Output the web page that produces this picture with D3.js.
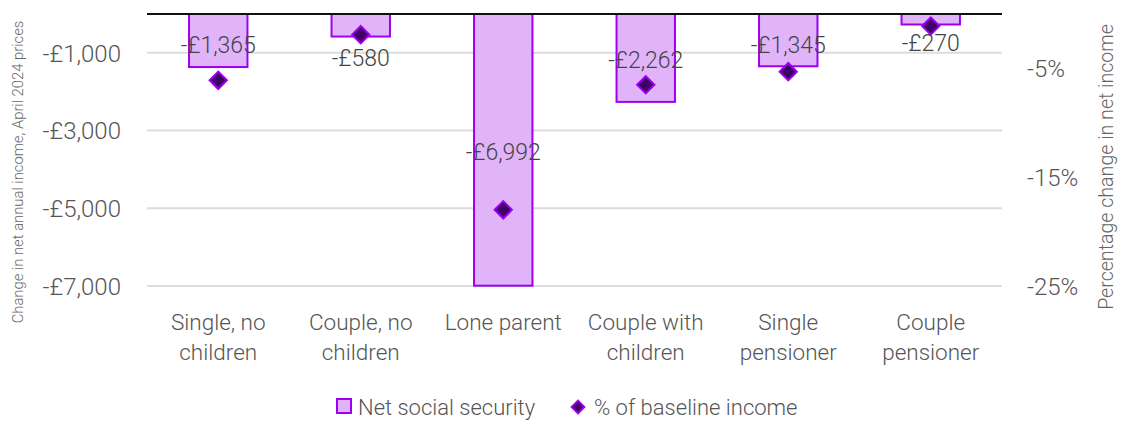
<!DOCTYPE html>
<html><head><meta charset="utf-8">
<script src="https://cdn.jsdelivr.net/npm/d3@7"></script>
<style>
body{margin:0;background:#fff;}
text{font-family:Roboto,"Liberation Sans",sans-serif;font-weight:300;}
</style></head>
<body><svg id="c" width="1123" height="421"></svg>
<script>
const categories = [["Single, no","children"],["Couple, no","children"],["Lone parent"],["Couple with","children"],["Single","pensioner"],["Couple","pensioner"]];
const netSocialSecurity = [-1365,-580,-6992,-2262,-1345,-270];
const pctBaseline = [-6.1,-1.9,-18.0,-6.5,-5.3,-1.1];
const labelAt = [-800,-1130,-3550,-1180,-800,-750];
const leftTicks = [-1000,-3000,-5000,-7000];
const rightTicks = [-5,-15,-25];

const svg = d3.select("#c");
const x = d3.scaleBand().domain(d3.range(categories.length)).range([147,1002]).paddingInner(0.59).paddingOuter(0.295);
const y = d3.scaleLinear().domain([-7000,0]).range([286,14]);
const y2 = d3.scaleLinear().domain([-25,0]).range([286,14]);
const fmt = v => "-£" + d3.format(",")(Math.abs(v));

// gridlines
svg.append("g").selectAll("line").data(leftTicks).join("line")
  .attr("x1",147).attr("x2",1002).attr("y1",d=>y(d)).attr("y2",d=>y(d))
  .attr("stroke","#dcdcdc").attr("stroke-width",2);

// left axis
const la = svg.append("g").attr("transform","translate(147,0)")
  .call(d3.axisLeft(y).tickValues(leftTicks).tickFormat(fmt).tickSize(0).tickPadding(26));
la.select(".domain").remove();
la.selectAll("text").attr("font-size",24).attr("fill","#555").attr("dy","0.35em").attr("font-family","Roboto,sans-serif");

// right axis
const ra = svg.append("g").attr("transform","translate(1002,0)")
  .call(d3.axisRight(y2).tickValues(rightTicks).tickFormat(d=>d+"%").tickSize(0).tickPadding(25));
ra.select(".domain").remove();
ra.selectAll("text").attr("font-size",24).attr("fill","#555").attr("dy","0.35em").attr("font-family","Roboto,sans-serif");

// bars
svg.append("g").selectAll("rect").data(netSocialSecurity).join("rect")
  .attr("x",(d,i)=>x(i)).attr("width",x.bandwidth())
  .attr("y",y(0)).attr("height",d=>y(d)-y(0))
  .attr("fill","#e1b4fa").attr("stroke","#9d00f0").attr("stroke-width",2);

// zero line
svg.append("line").attr("x1",147).attr("x2",1002).attr("y1",y(0)).attr("y2",y(0))
  .attr("stroke","#111").attr("stroke-width",2);

// diamonds
const dsym = d3.symbol().type(d3.symbolSquare).size(150);
svg.append("g").selectAll("path").data(pctBaseline).join("path")
  .attr("d",dsym)
  .attr("transform",(d,i)=>`translate(${x(i)+x.bandwidth()/2},${y2(d)}) rotate(45)`)
  .attr("fill","#3f0068").attr("stroke","#9d00f0").attr("stroke-width",2);

// value labels
svg.append("g").selectAll("text").data(netSocialSecurity).join("text")
  .attr("x",(d,i)=>x(i)+x.bandwidth()/2).attr("y",(d,i)=>y(labelAt[i]))
  .attr("dy","0.35em").attr("text-anchor","middle")
  .attr("font-size",23).attr("fill","#444").text(fmt);

// category labels
const cg = svg.append("g").selectAll("text").data(categories).join("text")
  .attr("x",(d,i)=>x(i)+x.bandwidth()/2).attr("y",330)
  .attr("text-anchor","middle").attr("font-size",22.5).attr("fill","#555");
cg.selectAll("tspan").data(d=>d).join("tspan")
  .attr("x",function(){return this.parentNode.getAttribute("x");})
  .attr("dy",(d,i)=>i===0?0:30).text(d=>d);

// axis titles
svg.append("text").attr("transform","translate(23,172) rotate(-90)")
  .attr("text-anchor","middle").attr("font-size",14.8).attr("fill","#666")
  .text("Change in net annual income, April 2024 prices");
svg.append("text").attr("transform","translate(1113,167) rotate(-90)")
  .attr("text-anchor","middle").attr("font-size",19.6).attr("fill","#666")
  .text("Percentage change in net income");

// legend
const lg = svg.append("g");
lg.append("rect").attr("x",337).attr("y",399).attr("width",14).attr("height",14)
  .attr("fill","#e1b4fa").attr("stroke","#9d00f0").attr("stroke-width",2);
lg.append("text").attr("x",358).attr("y",415).attr("font-size",22).attr("fill","#555").text("Net social security");
lg.append("path").attr("d",d3.symbol().type(d3.symbolSquare).size(80))
  .attr("transform","translate(578,407) rotate(45)")
  .attr("fill","#3f0068").attr("stroke","#9d00f0").attr("stroke-width",2);
lg.append("text").attr("x",594).attr("y",415).attr("font-size",22).attr("fill","#555").text("% of baseline income");
</script></body></html>
